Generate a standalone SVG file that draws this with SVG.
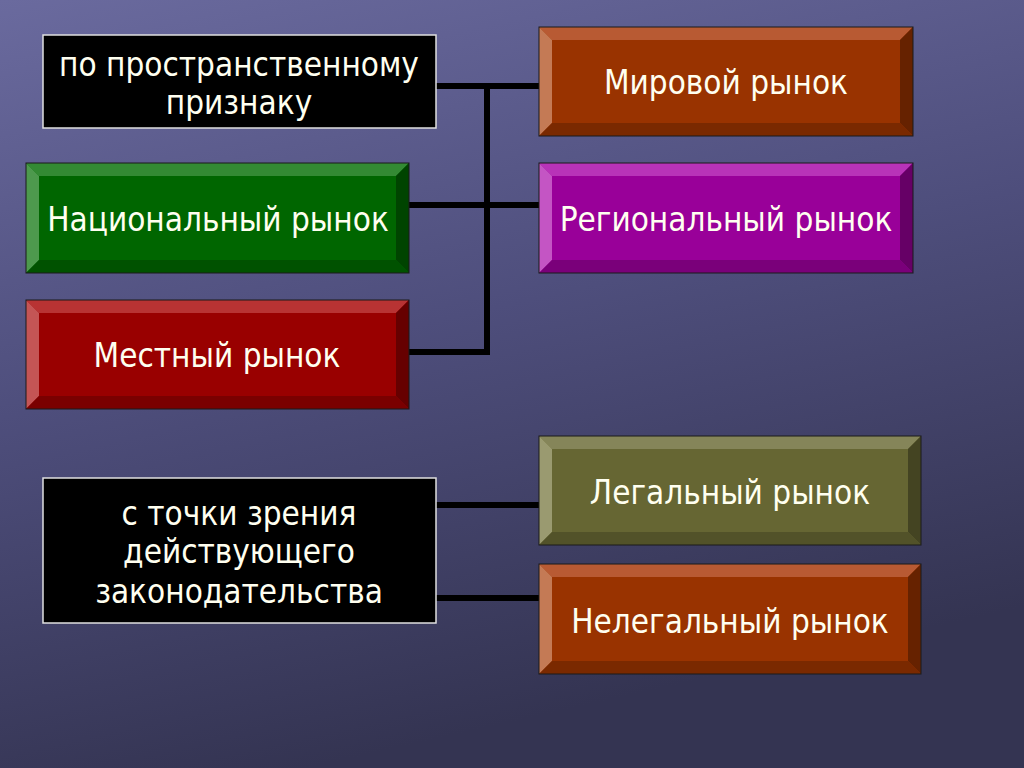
<svg xmlns="http://www.w3.org/2000/svg" width="1024" height="768" viewBox="0 0 1024 768">
<defs>
<linearGradient id="bg" x1="0" y1="0" x2="0.3" y2="1">
<stop offset="0" stop-color="#6a6a9e"/>
<stop offset="0.5" stop-color="#4e4e7c"/>
<stop offset="1" stop-color="#343452"/>
</linearGradient>
</defs>
<style>
.t{font-family:"DejaVu Sans Condensed","DejaVu Sans",sans-serif;font-stretch:condensed;font-size:33px;fill:#fffff0;text-anchor:middle}
.blk{fill:#000;stroke:#e0e0e0;stroke-width:1.5}
.edge{fill:none;stroke:#000;stroke-width:6}
.ol{fill:none;stroke:#1a1a1a;stroke-width:1}
</style>
<rect width="1024" height="768" fill="url(#bg)"/>
<g id="connectors">
<path class="edge" d="M436 86H539M487 86V352M409 205H539M409 352H490"/>
<path class="edge" d="M436 505H539M436 598H539"/>
</g>
<g id="n-space">
<rect class="blk" x="43" y="35" width="393" height="93"/>
<text class="t" x="239" y="76">по пространственному</text>
<text class="t" x="239" y="114">признаку</text>
</g>
<g id="n-world">
<rect x="539" y="27" width="374" height="109" fill="#993300"/>
<polygon points="539,27 913,27 900,40 552,40" fill="#b85a33"/>
<polygon points="539,27 552,40 552,123 539,136" fill="#c47a55"/>
<polygon points="913,27 913,136 900,123 900,40" fill="#662200"/>
<polygon points="539,136 552,123 900,123 913,136" fill="#7a2900"/>
<rect class="ol" x="539" y="27" width="374" height="109"/>
<text class="t" x="726" y="94">Мировой рынок</text>
</g>
<g id="n-national">
<rect x="26" y="163" width="383" height="110" fill="#006600"/>
<polygon points="26,163 409,163 396,176 39,176" fill="#338a33"/>
<polygon points="26,163 39,176 39,260 26,273" fill="#4d994d"/>
<polygon points="409,163 409,273 396,260 396,176" fill="#004400"/>
<polygon points="26,273 39,260 396,260 409,273" fill="#005200"/>
<rect class="ol" x="26" y="163" width="383" height="110"/>
<text class="t" x="218" y="231">Национальный рынок</text>
</g>
<g id="n-regional">
<rect x="539" y="163" width="374" height="110" fill="#990099"/>
<polygon points="539,163 913,163 900,176 552,176" fill="#b833b8"/>
<polygon points="539,163 552,176 552,260 539,273" fill="#c455c4"/>
<polygon points="913,163 913,273 900,260 900,176" fill="#660066"/>
<polygon points="539,273 552,260 900,260 913,273" fill="#7a007a"/>
<rect class="ol" x="539" y="163" width="374" height="110"/>
<text class="t" x="726" y="231">Региональный рынок</text>
</g>
<g id="n-local">
<rect x="26" y="300" width="383" height="109" fill="#990000"/>
<polygon points="26,300 409,300 396,313 39,313" fill="#b83333"/>
<polygon points="26,300 39,313 39,396 26,409" fill="#c45555"/>
<polygon points="409,300 409,409 396,396 396,313" fill="#660000"/>
<polygon points="26,409 39,396 396,396 409,409" fill="#7a0000"/>
<rect class="ol" x="26" y="300" width="383" height="109"/>
<text class="t" x="217" y="367">Местный рынок</text>
</g>
<g id="n-law">
<rect class="blk" x="43" y="478" width="393" height="145"/>
<text class="t" x="239" y="525">с точки зрения</text>
<text class="t" x="239" y="563">действующего</text>
<text class="t" x="239" y="603">законодательства</text>
</g>
<g id="n-legal">
<rect x="539" y="436" width="382" height="109" fill="#666633"/>
<polygon points="539,436 921,436 908,449 552,449" fill="#858559"/>
<polygon points="539,436 552,449 552,532 539,545" fill="#9a9a70"/>
<polygon points="921,436 921,545 908,532 908,449" fill="#444422"/>
<polygon points="539,545 552,532 908,532 921,545" fill="#525229"/>
<rect class="ol" x="539" y="436" width="382" height="109"/>
<text class="t" x="730" y="504">Легальный рынок</text>
</g>
<g id="n-illegal">
<rect x="539" y="564" width="382" height="110" fill="#993300"/>
<polygon points="539,564 921,564 908,577 552,577" fill="#b85a33"/>
<polygon points="539,564 552,577 552,661 539,674" fill="#c47a55"/>
<polygon points="921,564 921,674 908,661 908,577" fill="#662200"/>
<polygon points="539,674 552,661 908,661 921,674" fill="#7a2900"/>
<rect class="ol" x="539" y="564" width="382" height="110"/>
<text class="t" x="730" y="633">Нелегальный рынок</text>
</g>
</svg>
